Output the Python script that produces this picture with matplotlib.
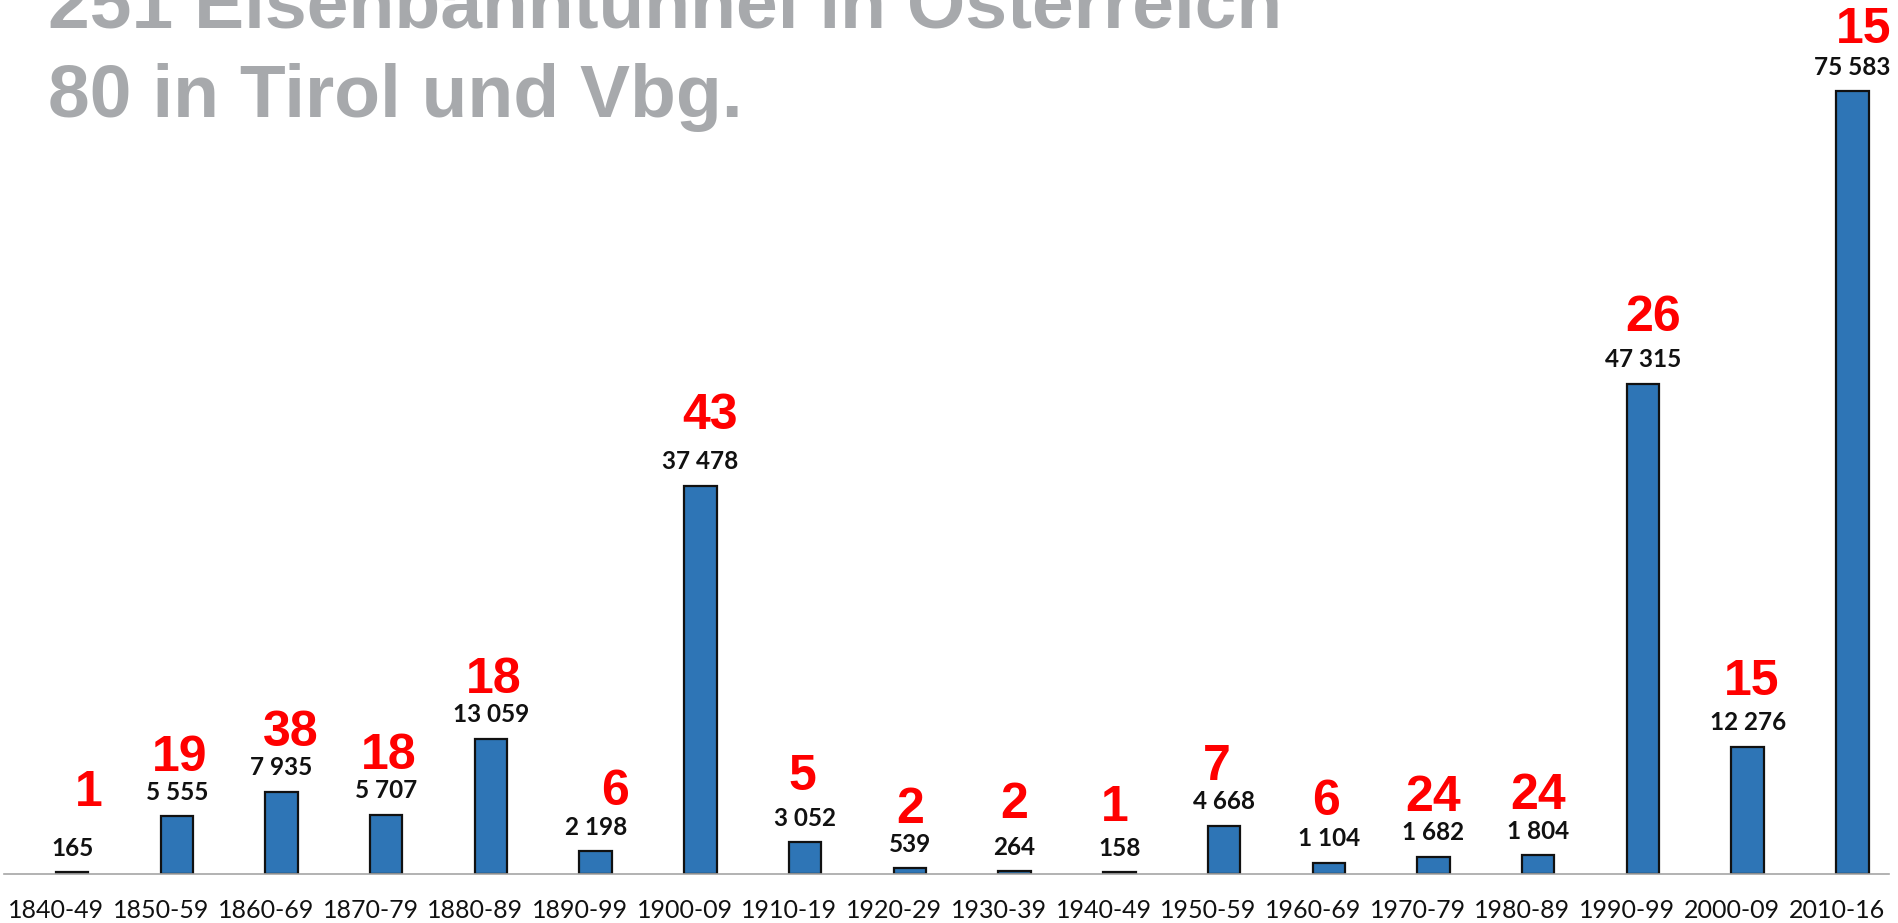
import matplotlib
matplotlib.use("Agg")
import matplotlib.pyplot as plt
import numpy as np

# ---- data ----
categories = ["1840-49", "1850-59", "1860-69", "1870-79", "1880-89", "1890-99",
              "1900-09", "1910-19", "1920-29", "1930-39", "1940-49", "1950-59",
              "1960-69", "1970-79", "1980-89", "1990-99", "2000-09", "2010-16"]
tunnel_length_m = [165, 5555, 7935, 5707, 13059, 2198, 37478, 3052, 539, 264,
                   158, 4668, 1104, 1682, 1804, 47315, 12276, 75583]
tunnel_count = [1, 19, 38, 18, 18, 6, 43, 5, 2, 2, 1, 7, 6, 24, 24, 26, 15, 15]
title_lines = ["251 Eisenbahntunnel in Österreich", "80 in Tirol und Vbg."]

# ---- layout: manual nudges of the red count labels (points, dx, dy) ----
red_nudge = [(12, 15), (2, 0), (7, 0), (2, 0), (2, 0), (14, 0),
             (7, 8), (-2, 5), (0, 0), (0, 5), (-3, 4), (-5, 0),
             (-2, 1), (0, 0), (0, 0), (7, 5), (3, 4), (8, 2)]

W, H, DPI = 1899, 923, 100
fig = plt.figure(figsize=(W / DPI, H / DPI), dpi=DPI)
fig.patch.set_facecolor("white")

# axes: baseline at y=874px, spans x 4..1889 px
ax = fig.add_axes([4 / W, 1 - 874 / H, (1889 - 4) / W, 874 / H])
ax.set_facecolor("none")

x = np.arange(len(categories))
bar_shift = 0.15
bars = ax.bar(x + bar_shift, tunnel_length_m, width=0.31, color="#2E75B6",
              edgecolor="#111111", linewidth=1.6, zorder=3)

ax.set_xlim(-0.5, len(categories) - 0.5)
ax.set_ylim(0, 84400)

for s in ["top", "right", "left"]:
    ax.spines[s].set_visible(False)
ax.spines["bottom"].set_color("#A6A6A6")
ax.spines["bottom"].set_linewidth(1.2)
ax.spines["bottom"].set_zorder(4)
ax.set_yticks([])
ax.set_xticks(x)
ax.set_xticklabels(categories, fontfamily="Lato", fontsize=18, color="#111111")
ax.tick_params(axis="x", length=0, pad=18)

def fmt(v):
    return f"{v:,}".replace(",", " ")

for xi, v, n, (ndx, ndy) in zip(x, tunnel_length_m, tunnel_count, red_nudge):
    ax.annotate(fmt(v), xy=(xi + bar_shift, v), xytext=(0, 12),
                textcoords="offset points", ha="center", va="baseline",
                fontfamily="Lato", fontweight="bold", fontsize=17.5,
                color="#111111", zorder=5)
    ax.annotate(str(n), xy=(xi + bar_shift, v), xytext=(ndx, 12 + 21 + ndy),
                textcoords="offset points", ha="center", va="baseline",
                fontfamily="Liberation Sans", fontweight="bold", fontsize=36,
                color="#FF0000", zorder=5)

# title (partly cut at the top, as in the reference)
fig.text(48 / W, 1 - 27 / H, title_lines[0], ha="left", va="baseline",
         fontfamily="Liberation Sans", fontweight="bold", fontsize=54,
         color="#A7A9AC")
fig.text(48 / W, 1 - 117 / H, title_lines[1], ha="left", va="baseline",
         fontfamily="Liberation Sans", fontweight="bold", fontsize=54,
         color="#A7A9AC")

fig.savefig("out.png", dpi=DPI)
